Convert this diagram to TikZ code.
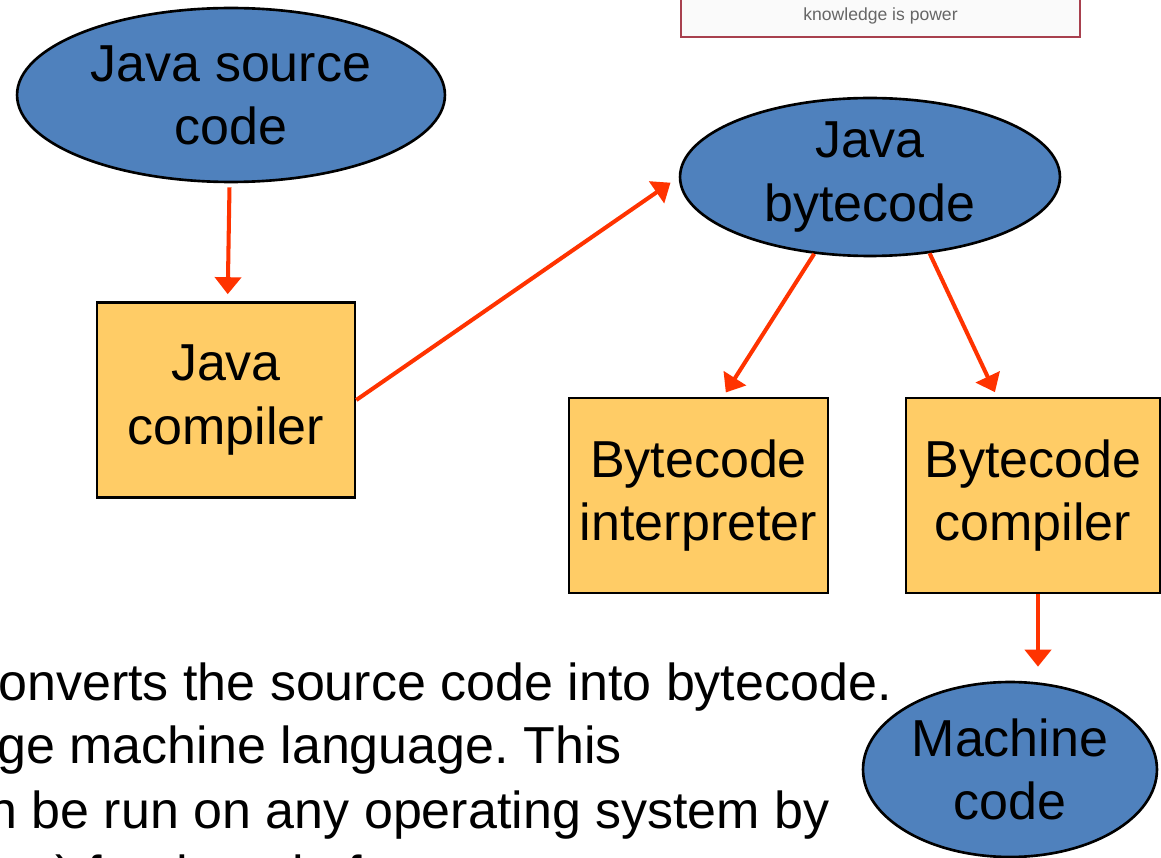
\documentclass[tikz,border=0pt]{standalone}
\usepackage{fontspec}
\setmainfont{Liberation Sans}
\usetikzlibrary{arrows.meta,shapes.geometric}
\definecolor{javablue}{HTML}{4F81BD}
\definecolor{stageyellow}{HTML}{FFCC66}
\definecolor{flowred}{HTML}{FF3300}
\definecolor{mottored}{HTML}{A8404E}
\newcommand{\slidefont}{\fontsize{29.6pt}{35.9pt}\selectfont}
\frenchspacing
\begin{document}
\begin{tikzpicture}[x=0.02cm,y=-0.02cm,
  blob/.style={ellipse,draw=black,line width=1.5pt,fill=javablue,inner sep=0pt,align=center,font=\slidefont},
  stage/.style={rectangle,draw=black,line width=1.5pt,fill=stageyellow,inner sep=0pt,align=center,font=\slidefont},
  flow/.style={draw=flowred,line width=2.3pt,-{Triangle[length=0.34cm,width=0.52cm]}}]
\fill[white] (0,0) rectangle (1161,858);
\useasboundingbox (0,0) rectangle (1161,858);
% banner at the top
\node[draw=mottored,line width=0.9pt,fill=gray!4,minimum width=7.98cm,minimum height=0.84cm,
  text=gray!80!black,font=\fontsize{10pt}{12pt}\selectfont] (motto) at (880.5,16) {knowledge is power};
% edit here for the ellipses
\node[blob,minimum width=8.56cm,minimum height=3.48cm] (src) at (231,95) {Java source\\code};
\node[blob,minimum width=7.6cm,minimum height=3.16cm] (bc) at (870,177) {Java\\bytecode};
\node[blob,minimum width=5.88cm,minimum height=3.5cm] (mc) at (1010,769.5) {Machine\\code};
% edit here for the boxes
\node[stage,minimum width=5.16cm,minimum height=3.9cm] (jc) at (226,400) {Java\\compiler};
\node[stage,minimum width=5.18cm,minimum height=3.9cm] (bi) at (698.5,495.5) {Bytecode\\interpreter};
\node[stage,minimum width=5.08cm,minimum height=3.9cm] (bx) at (1033,495.5) {Bytecode\\compiler};
% edit here for the arrows
\draw[flow,shorten <=0.08cm,shorten >=0.14cm] (src) -- (jc);
\draw[flow,shorten >=0.2cm] (jc.east) -- (bc.west);
\draw[flow,shorten >=0.1cm] (bc.234) -- (bi.76);
\draw[flow,shorten >=0.1cm] (bc.-52) -- (bx.110);
\draw[flow,shorten >=0.28cm] ([xshift=0.1cm]bx.south) -- ([xshift=0.1cm]bx.south |- mc.north);
% edit here for the text underneath
\foreach \n/\x/\y/\t in {1/-2/700/onverts the source code into bytecode.,
  2/-3/763/ge machine language. This,
  3/-12/828/n be run on any operating system by,
  4/55/892/) for that platform}
\node[anchor=base west,inner sep=0pt,font=\slidefont] (note\n) at (\x,\y) {\t};
\end{tikzpicture}
\end{document}
